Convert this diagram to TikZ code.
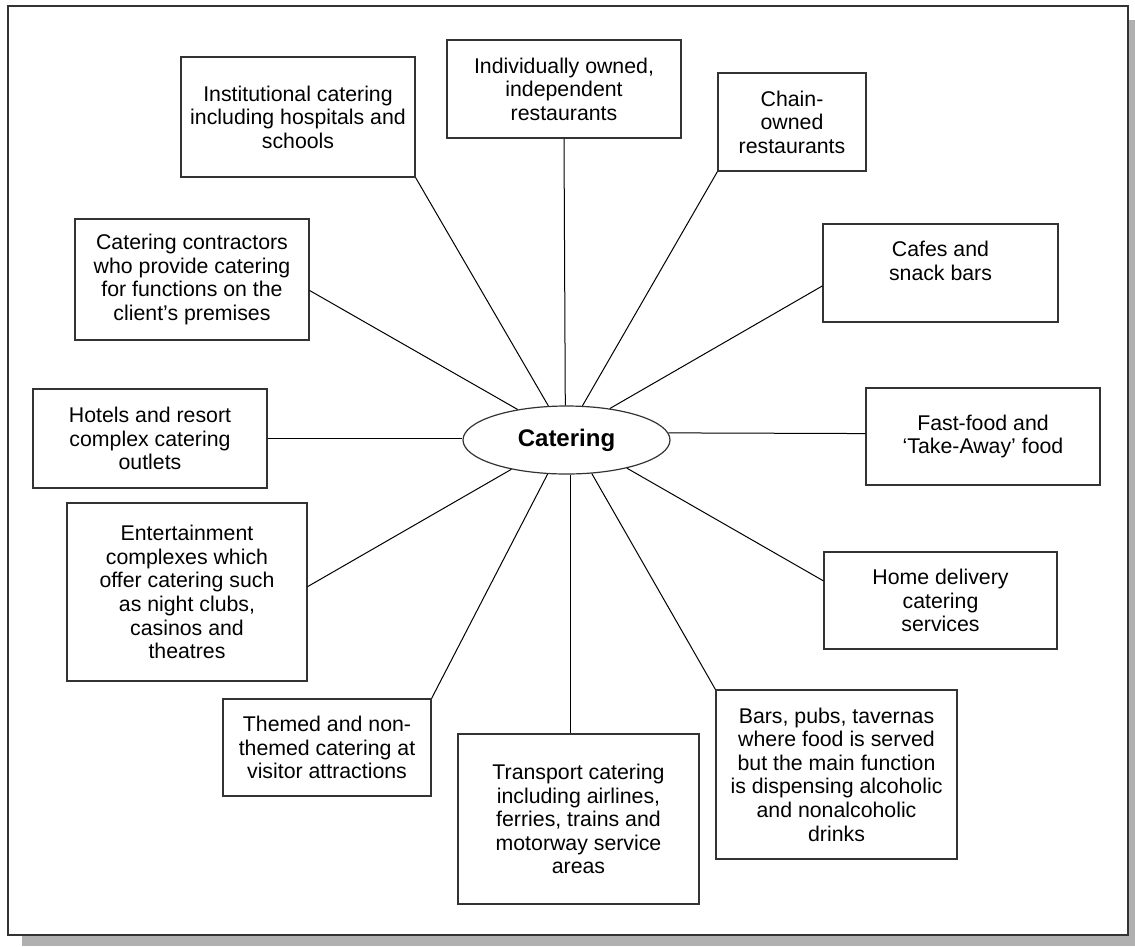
\documentclass[tikz,border=0pt]{standalone}
\usepackage{fontspec}
\setmainfont{Liberation Sans}
\usetikzlibrary{shapes.geometric,calc}
\definecolor{shadowgray}{HTML}{B0B0B0}
\definecolor{framegray}{HTML}{333333}
\tikzset{
  box/.style={draw=framegray, line width=1.2pt, fill=white, inner sep=0pt, align=center,
    font=\fontsize{21.3}{23.6}\selectfont},
  hub/.style={draw=framegray, line width=1.2pt, fill=white, ellipse, inner sep=0pt,
    minimum width=207pt, minimum height=68pt, font=\fontsize{24}{28}\selectfont\bfseries},
  link/.style={draw=black, line width=1pt},
  plain/.style={inner sep=0pt, align=center, font=\fontsize{21.3}{23.6}\selectfont}
}
\begin{document}
\begin{tikzpicture}[x=1pt,y=-1pt]
\useasboundingbox (0,0) rectangle (1135,946);
% frame with shadow
\fill[shadowgray] (22,20) rectangle (1135,946);
\draw[draw=framegray, line width=1.4pt, fill=white] (8,6) rectangle (1128,935);

\node[hub] (cat) at (566.5,440) {Catering};

\node[box, minimum width=234pt, minimum height=120pt] (inst) at (298,117)
  {Institutional catering\\including hospitals and\\schools};
\node[box, minimum width=234pt, minimum height=98pt] (ind) at (564,89)
  {Individually owned,\\independent\\restaurants};
\node[box, minimum width=148pt, minimum height=98pt] (chain) at (792,122)
  {Chain-\\owned\\restaurants};
\node[box, minimum width=235pt, minimum height=98pt] (cafe) at (940.5,273) {};
\node[plain] (cafetext) at (940.5,261) {Cafes and\\snack bars};
\node[box, minimum width=234pt, minimum height=97pt] (fast) at (983,436.5)
  {Fast-food and\\‘Take-Away’ food};
\node[box, minimum width=233pt, minimum height=97pt] (home) at (940.5,600.5)
  {Home delivery\\catering\\services};
\node[box, minimum width=241pt, minimum height=169pt] (bars) at (836.5,774.5)
  {Bars, pubs, tavernas\\where food is served\\but the main function\\is dispensing alcoholic\\and nonalcoholic\\drinks};
\node[box, minimum width=241pt, minimum height=170pt] (trans) at (578.5,819)
  {Transport catering\\including airlines,\\ferries, trains and\\motorway service\\areas};
\node[box, minimum width=208pt, minimum height=97pt] (themed) at (327,747.5)
  {Themed and non-\\themed catering at\\visitor attractions};
\node[box, minimum width=240pt, minimum height=178pt] (ent) at (187,592)
  {Entertainment\\complexes which\\offer catering such\\as night clubs,\\casinos and\\theatres};
\node[box, minimum width=234pt, minimum height=99pt] (hotels) at (150,438.5)
  {Hotels and resort\\complex catering\\outlets};
\node[box, minimum width=234pt, minimum height=121pt] (contr) at (192,279.5)
  {Catering contractors\\who provide catering\\for functions on the\\client’s premises};

% connectors
\draw[link] ($(contr.north east)!0.59!(contr.south east)$) -- (cat.148);
\draw[link] (inst.south east) -- (cat.118.6);
\draw[link] (ind.south) -- (cat.92);
\draw[link] (chain.south west) -- (cat.65.5);
\draw[link] ($(cafe.north west)!0.63!(cafe.south west)$) -- (cat.36);
\draw[link] ($(fast.north west)!0.47!(fast.south west)$) -- (cat.4);
\draw[link] ($(home.north west)!0.3!(home.south west)$) -- (cat.335.5);
\draw[link] (bars.north west) -- (cat.307.7);
\coordinate (trtop) at ($(trans.north west)!0.465!(trans.north east)$);
\draw[link] (trtop) -- (trtop |- cat.south);
\draw[link] (themed.north east) -- (cat.241.4);
\draw[link] ($(ent.north east)!0.47!(ent.south east)$) -- (cat.208.5);
\draw[link] (hotels.east) -- (hotels.east -| cat.west);
\end{tikzpicture}
\end{document}
